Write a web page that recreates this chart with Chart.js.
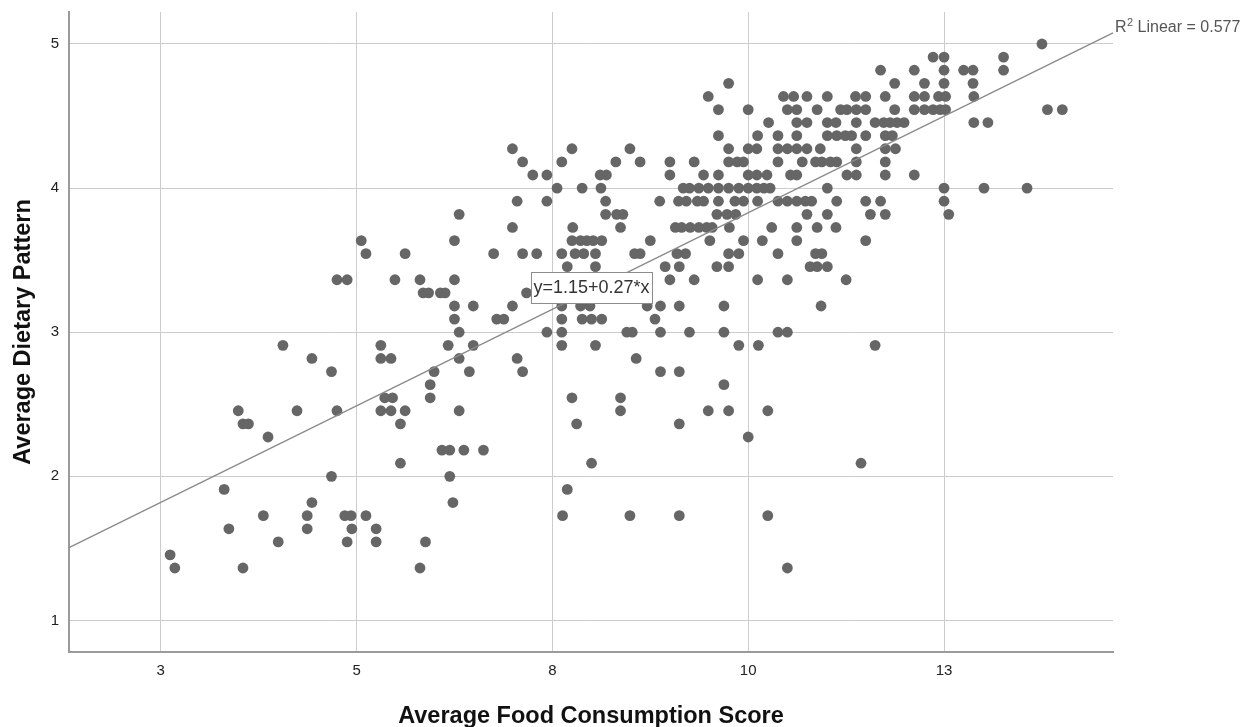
<!DOCTYPE html>
<html><head><meta charset="utf-8">
<script src="https://cdn.jsdelivr.net/npm/chart.js@4.4.1/dist/chart.umd.min.js"></script>
<style>html,body{margin:0;padding:0;background:#fff}#wrap{width:1248px;height:727px}</style>
</head><body><div id="wrap"><canvas id="c" width="1248" height="727"></canvas></div>
<script>
// ---- data ----
const xTickValues = [2.5, 5, 7.5, 10, 12.5];
const xTickLabels = ['3', '5', '8', '10', '13'];
const yTickValues = [1, 2, 3, 4, 5];
const yTickLabels = ['1', '2', '3', '4', '5'];
const xRange = [1.329, 14.657];
const yRange = [0.781, 5.222];
const fitIntercept = 1.149;
const fitSlope = 0.268;
const equationText = 'y=1.15+0.27*x';
const r2Text = '0.577';

const dietLevels = [5.000, 4.909, 4.818, 4.727, 4.636, 4.545, 4.455, 4.364, 4.273, 4.182, 4.091, 4.000,
  3.909, 3.818, 3.727, 3.636, 3.545, 3.455, 3.364, 3.273, 3.182, 3.091, 3.000, 2.909, 2.818, 2.727,
  2.636, 2.545, 2.455, 2.364, 2.273, 2.182, 2.091, 2.000, 1.909, 1.818, 1.727, 1.636, 1.545, 1.455, 1.364];

const foodScores = [
  [13.75],
  [12.36, 12.50, 13.26],
  [11.69, 12.12, 12.50, 12.75, 12.87, 13.26],
  [9.75, 11.87, 12.25, 12.50, 12.87],
  [9.49, 10.45, 10.58, 10.75, 11.01, 11.37, 11.50, 11.75, 12.12, 12.25, 12.43, 12.52, 12.88],
  [9.62, 10.00, 10.50, 10.62, 10.88, 11.18, 11.26, 11.38, 11.50, 11.87, 12.12, 12.25, 12.36, 12.45, 12.52, 13.82, 14.01],
  [10.26, 10.62, 10.75, 11.01, 11.12, 11.38, 11.62, 11.73, 11.81, 11.90, 11.99, 12.88, 13.06],
  [9.62, 10.12, 10.38, 10.62, 11.01, 11.13, 11.24, 11.32, 11.50, 11.75, 11.84],
  [6.99, 7.75, 8.49, 9.75, 10.00, 10.11, 10.38, 10.50, 10.62, 10.75, 10.92, 11.38, 11.75, 11.88],
  [7.12, 7.62, 8.31, 8.62, 9.00, 9.31, 9.75, 9.86, 9.94, 10.38, 10.69, 10.86, 10.94, 11.05, 11.13, 11.38, 11.75],
  [7.25, 7.43, 8.11, 8.19, 9.00, 9.43, 9.62, 10.00, 10.11, 10.24, 10.54, 10.62, 11.26, 11.38, 11.75, 12.12],
  [7.56, 7.88, 8.12, 9.17, 9.25, 9.37, 9.49, 9.62, 9.75, 9.88, 10.00, 10.11, 10.20, 10.28, 11.01, 12.50, 13.01, 13.56],
  [7.05, 7.43, 8.18, 8.87, 9.11, 9.21, 9.35, 9.43, 9.62, 9.83, 9.94, 10.12, 10.38, 10.50, 10.62, 10.73, 10.81, 11.13, 11.50, 11.69, 12.50],
  [6.31, 8.18, 8.32, 8.40, 9.60, 9.73, 9.84, 10.75, 11.01, 11.56, 11.75, 12.56],
  [6.99, 7.76, 8.37, 9.07, 9.15, 9.26, 9.37, 9.47, 9.54, 9.76, 10.30, 10.62, 10.88, 11.12],
  [5.06, 6.25, 7.75, 7.86, 7.94, 8.02, 8.13, 8.75, 9.51, 9.94, 10.18, 10.62, 11.50],
  [5.12, 5.62, 6.75, 7.12, 7.30, 7.62, 7.79, 7.90, 8.05, 8.55, 8.62, 9.09, 9.20, 9.75, 9.88, 10.38, 10.86, 10.94],
  [7.69, 8.05, 8.94, 9.12, 9.60, 9.75, 10.79, 10.88, 11.01],
  [4.75, 4.88, 5.49, 5.81, 6.25, 9.00, 9.31, 10.12, 10.50, 11.25],
  [5.85, 5.92, 6.07, 6.13, 7.17],
  [6.25, 6.49, 6.99, 7.62, 7.86, 7.98, 8.71, 8.88, 9.12, 9.69, 10.93],
  [6.25, 6.79, 6.88, 7.62, 7.88, 8.00, 8.13, 8.81],
  [6.31, 7.43, 7.62, 8.45, 8.52, 8.88, 9.25, 9.69, 10.38, 10.50],
  [4.06, 5.31, 6.17, 6.49, 7.62, 8.05, 9.88, 10.13, 11.62],
  [4.43, 5.31, 5.44, 6.31, 7.05, 8.57],
  [4.68, 5.99, 6.44, 7.12, 8.88, 9.12],
  [5.94, 9.69],
  [5.36, 5.46, 5.94, 7.75, 8.37],
  [3.49, 4.24, 4.75, 5.31, 5.44, 5.62, 6.31, 8.37, 9.49, 9.75, 10.25],
  [3.55, 3.62, 5.56, 7.81, 9.12],
  [3.87, 10.00],
  [6.09, 6.19, 6.37, 6.62],
  [5.56, 8.00, 11.44],
  [4.68, 6.19],
  [3.31, 7.69],
  [4.43, 6.23],
  [3.81, 4.37, 4.85, 4.93, 5.12, 7.63, 8.49, 9.12, 10.25],
  [3.37, 4.37, 4.94, 5.25],
  [4.00, 4.88, 5.25, 5.88],
  [2.62],
  [2.68, 3.55, 5.81, 10.50]
];

// ---- build chart ----
const FONT = '"Liberation Sans", Arial, sans-serif';
const points = [];
dietLevels.forEach((yv, i) => foodScores[i].forEach(xv => points.push({ x: xv, y: yv })));
const fitLine = xRange.map(xv => ({ x: xv, y: fitIntercept + fitSlope * xv }));

const annotations = {
  id: 'annotations',
  afterDatasetsDraw(chart) {
    const { ctx, chartArea, scales: { x, y } } = chart;
    ctx.save();
    // equation label box on the fit line
    const at = 8.0;
    const cx = x.getPixelForValue(at);
    const cy = y.getPixelForValue(fitIntercept + fitSlope * at) - 2.5;
    ctx.font = '18px ' + FONT;
    const tw = ctx.measureText(equationText).width;
    const bw = Math.round(tw + 5), bh = 31;
    const bx = Math.round(cx - bw / 2) + 0.5, by = Math.round(cy - bh / 2) + 0.5;
    ctx.fillStyle = '#ffffff';
    ctx.fillRect(bx, by, bw, bh);
    ctx.strokeStyle = '#8c8c8c';
    ctx.lineWidth = 1;
    ctx.strokeRect(bx, by, bw, bh);
    ctx.fillStyle = '#333333';
    ctx.textAlign = 'center';
    ctx.textBaseline = 'middle';
    ctx.fillText(equationText, cx, cy + 1);
    // R squared label
    ctx.textAlign = 'left';
    ctx.textBaseline = 'alphabetic';
    ctx.fillStyle = '#555555';
    let lx = chartArea.right + 2;
    const base = 32;
    ctx.font = '16px ' + FONT;
    ctx.fillText('R', lx, base);
    lx += ctx.measureText('R').width + 0.5;
    ctx.font = '11px ' + FONT;
    ctx.fillText('2', lx, base - 6);
    lx += ctx.measureText('2').width;
    ctx.font = '16px ' + FONT;
    ctx.fillText(' Linear = ' + r2Text, lx, base);
    ctx.restore();
  }
};

new Chart(document.getElementById('c'), {
  type: 'scatter',
  data: {
    datasets: [
      { type: 'line', data: fitLine, borderColor: '#8a8a8a', borderWidth: 1.3, pointRadius: 0, fill: false, clip: false },
      { data: points, backgroundColor: '#666666', borderWidth: 0, pointRadius: 5.4, pointHoverRadius: 5.4 }
    ]
  },
  options: {
    responsive: false,
    animation: false,
    events: [],
    layout: { padding: { left: 0, right: 135, top: 12, bottom: 0 } },
    plugins: { legend: { display: false }, tooltip: { enabled: false } },
    scales: {
      x: {
        type: 'linear', min: xRange[0], max: xRange[1],
        afterBuildTicks: s => { s.ticks = xTickValues.map(v => ({ value: v })); },
        afterFit: s => { s.height = 75; s.paddingLeft = 0; s.paddingRight = 0; },
        ticks: {
          callback: v => xTickLabels[xTickValues.indexOf(v)],
          font: { family: FONT, size: 15 }, color: '#222', padding: 10, maxRotation: 0, autoSkip: false
        },
        grid: { color: '#cccccc', lineWidth: 1, drawTicks: false },
        border: { color: '#9a9a9a', width: 2 },
        title: { display: true, text: 'Average Food Consumption Score', color: '#111',
          font: { family: FONT, size: 23.5, weight: 'bold', lineHeight: 1 }, padding: { top: 0, bottom: -1.75 } }
      },
      y: {
        type: 'linear', min: yRange[0], max: yRange[1],
        afterBuildTicks: s => { s.ticks = yTickValues.map(v => ({ value: v })); },
        afterFit: s => { s.width = 69; s.paddingTop = 0; s.paddingBottom = 0; },
        ticks: {
          callback: v => yTickLabels[yTickValues.indexOf(v)],
          font: { family: FONT, size: 15 }, color: '#222', padding: 10, autoSkip: false
        },
        grid: { color: '#cccccc', lineWidth: 1, drawTicks: false },
        border: { color: '#9a9a9a', width: 2 },
        title: { display: true, text: 'Average Dietary Pattern', color: '#111',
          font: { family: FONT, size: 23.5, weight: 'bold', lineHeight: 1 }, padding: { top: 12, bottom: 0 } }
      }
    }
  },
  plugins: [annotations]
});
</script>
</body></html>
